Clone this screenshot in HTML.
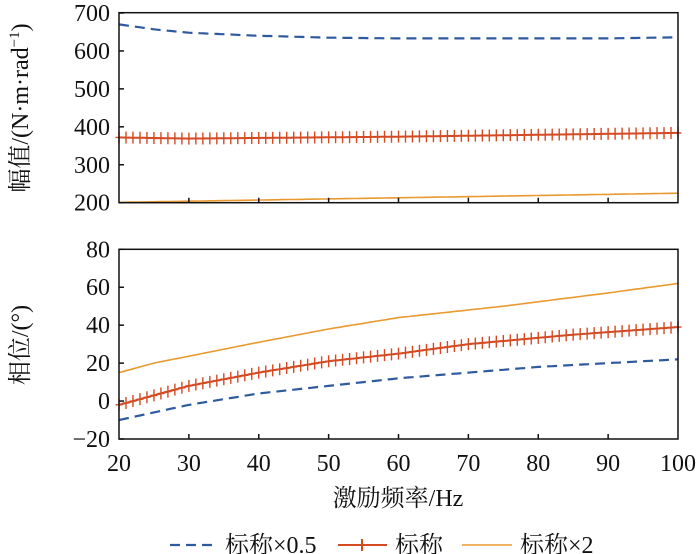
<!DOCTYPE html>
<html><head><meta charset="utf-8"><style>
html,body{margin:0;padding:0;background:#fff;width:700px;height:554px;overflow:hidden}
svg text{font-family:"Liberation Serif","Noto Serif CJK SC",serif;font-size:24px;fill:#111}
</style></head><body>
<svg id="s" width="700" height="554" xmlns="http://www.w3.org/2000/svg">
</svg>
<script>
const s=document.getElementById('s');
const X0=119,X1=678;
const fx=f=>X0+(f-20)*(X1-X0)/80;
const ty=v=>202.7-(v-200)*(189.7/500);
const by=v=>439-(v+20)*1.897;
function interp(pts,f){for(let i=0;i<pts.length-1;i++){if(f<=pts[i+1][0]){const a=pts[i],b=pts[i+1];return a[1]+(b[1]-a[1])*(f-a[0])/(b[0]-a[0]);}}return pts[pts.length-1][1];}
let h='';
function series(pts,yf,color,dash,marks,w){
 let d=[];
 for(let f=20;f<=100.01;f+=0.5){const x=fx(f),y=yf(interp(pts,f));d.push(x.toFixed(1)+','+y.toFixed(1));}
 h+=`<polyline points="${d.join(' ')}" fill="none" stroke="${color}" stroke-width="${w}" ${dash?'stroke-dasharray="10,6"':''}/>`;
 if(marks){for(let f=20;f<=100.01;f+=1.0){const x=fx(f),y=yf(interp(pts,f));h+=`<path d="M${x-3.5},${y}H${x+3.5}M${x},${y-6}V${y+6}" stroke="${color}" stroke-width="1.4"/>`;}}
}
series([[20,670],[25,657],[30,648],[40,640],[50,635],[60,633],[90,633],[100,636]],ty,'#2e5aa0',true,false,2.2);
series([[20,372],[30,369],[60,374],[100,384]],ty,'#d44a23',false,true,2);
series([[20,201],[50,210],[100,225]],ty,'#e89a30',false,false,1.6);
series([[20,-10],[30,-2],[40,4],[50,8],[60,12],[70,15],[80,18],[100,22]],by,'#2e5aa0',true,false,2.2);
series([[20,-2],[30,8],[40,15],[50,21],[60,25],[70,30],[85,35],[100,39]],by,'#d44a23',false,true,2);
series([[20,15],[25,20],[40,31],[50,38],[60,44],[75,50],[90,57],[100,62]],by,'#e89a30',false,false,1.6);
h+=`<rect x="${X0}" y="12.7" width="${X1-X0}" height="190" fill="none" stroke="#111" stroke-width="1.5"/>`;
h+=`<rect x="${X0}" y="249.3" width="${X1-X0}" height="189.7" fill="none" stroke="#111" stroke-width="1.5"/>`;
for(let f=30;f<=90;f+=10){const x=fx(f);h+=`<path d="M${x},202.7v-5M${x},439v-5" stroke="#111" stroke-width="1.5"/>`;}
for(let f=20;f<=100;f+=10){h+=`<text x="${fx(f)}" y="471" text-anchor="middle">${f}</text>`;}
for(let v=200;v<=700;v+=100){const y=ty(v);h+=`<path d="M${X0},${y}h5" stroke="#111" stroke-width="1.5"/><text x="110" y="${y+8}" text-anchor="end">${v}</text>`;}
for(let v=-20;v<=80;v+=20){const y=by(v);h+=`<path d="M${X0},${y}h5" stroke="#111" stroke-width="1.5"/><text x="110" y="${y+8}" text-anchor="end">${v<0?'−'+(-v):v}</text>`;}
h+=`<text x="398" y="506" text-anchor="middle">激励频率/Hz</text>`;
h+=`<text transform="translate(28,108) rotate(-90)" text-anchor="middle">幅值/(N·m·rad<tspan dy="-9" style="font-size:15px">−1</tspan><tspan dy="9">)</tspan></text>`;
h+=`<text transform="translate(28,345) rotate(-90)" text-anchor="middle">相位/(°)</text>`;
h+=`<path d="M170,545H217" stroke="#2e5aa0" stroke-width="2.2" stroke-dasharray="10,6"/><text x="225" y="553">标称×0.5</text>`;
h+=`<path d="M338,545H387M362,539V551" stroke="#d44a23" stroke-width="2"/><text x="395" y="553">标称</text>`;
h+=`<path d="M462,545H512" stroke="#e89a30" stroke-width="1.6"/><text x="520" y="553">标称×2</text>`;
s.innerHTML=h;
</script>
</body></html>
